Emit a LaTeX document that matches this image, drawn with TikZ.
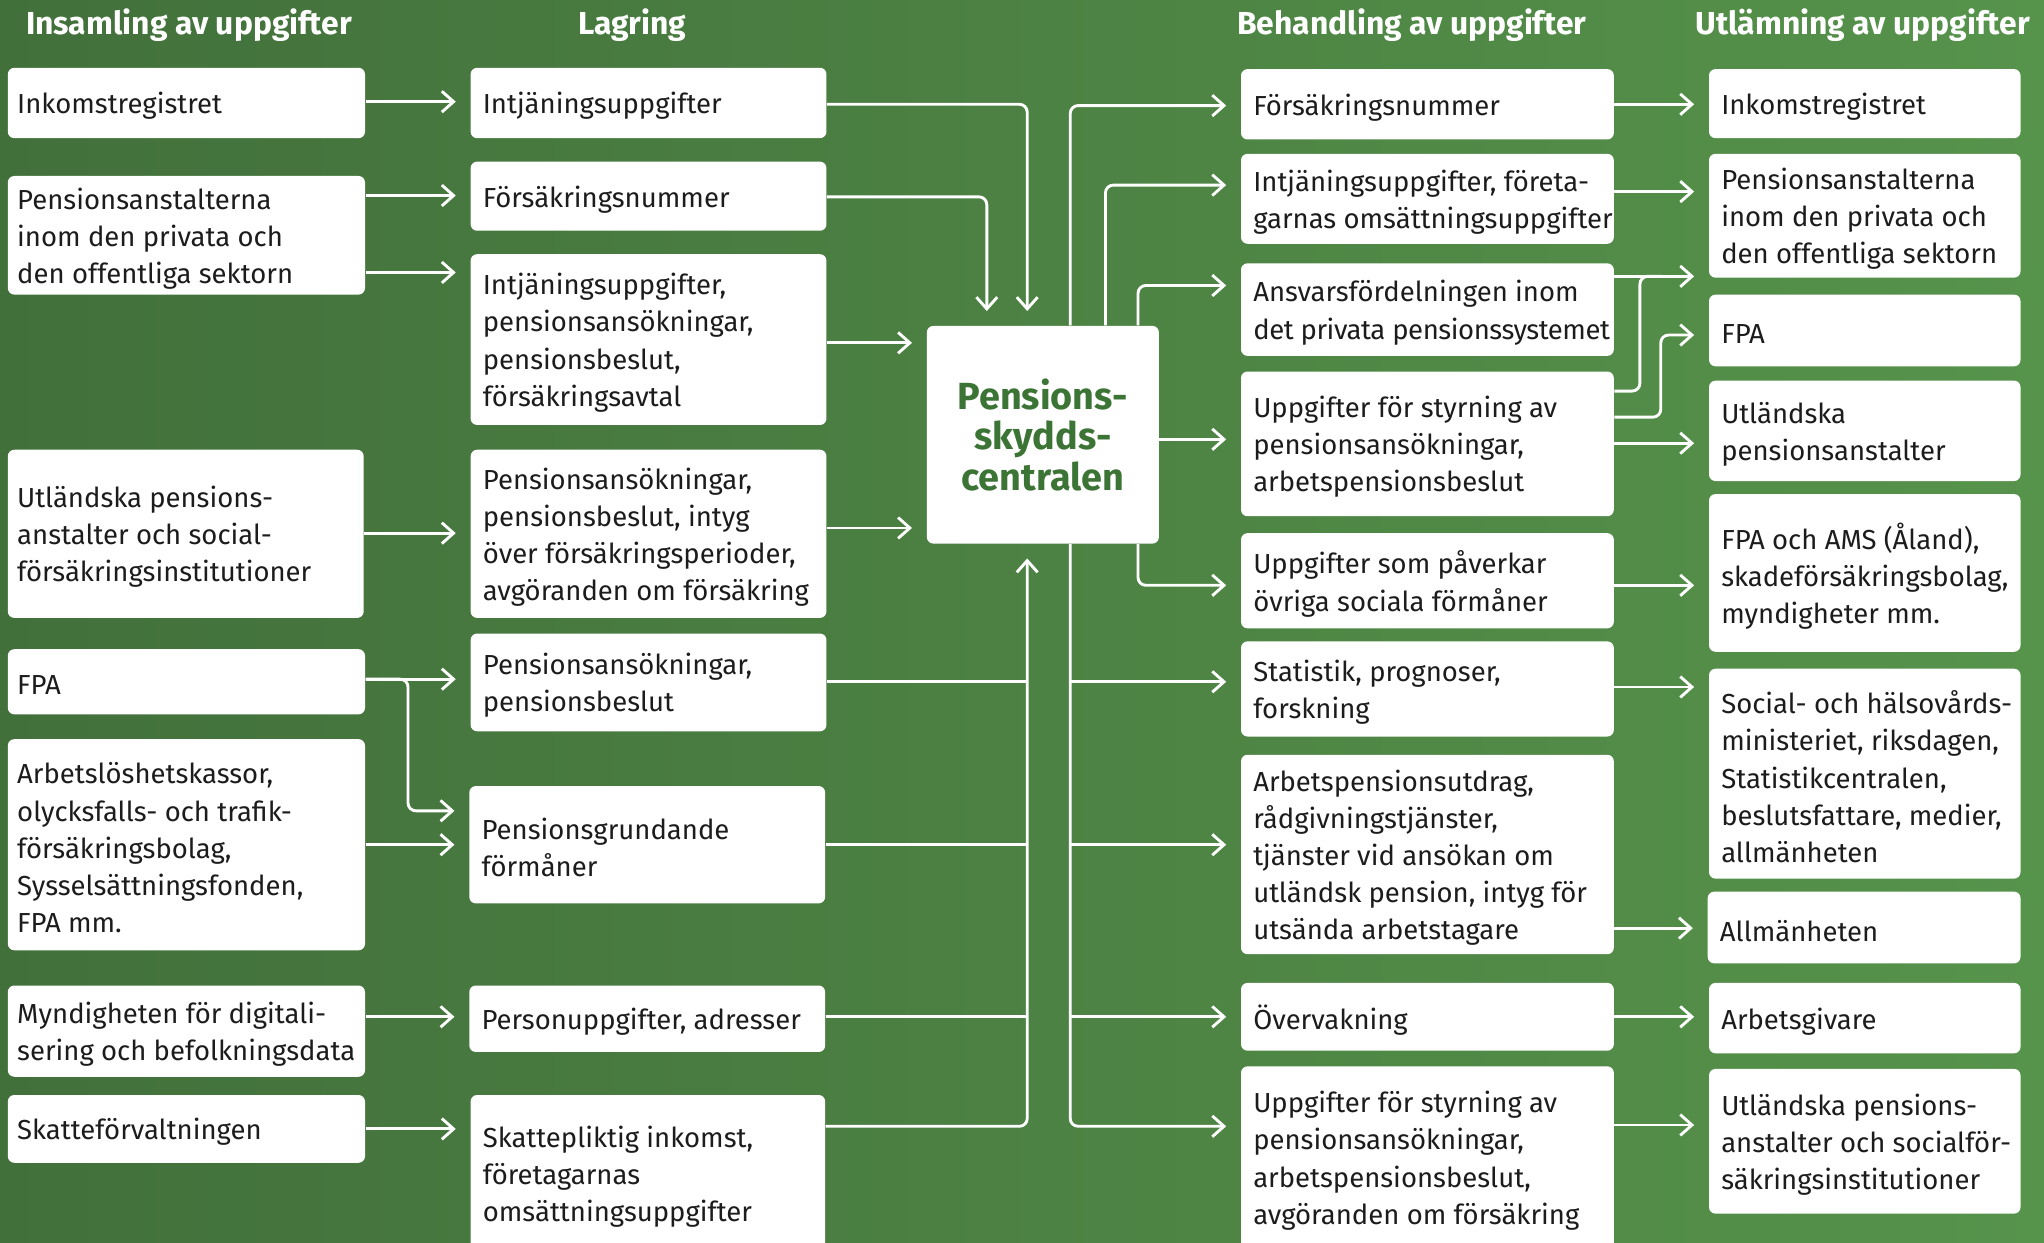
\documentclass[tikz,border=0pt]{standalone}
\usepackage{fontspec}
\setmainfont{Fira Sans}
\usetikzlibrary{arrows.meta,fit}
\definecolor{bgL}{RGB}{66,112,59}
\definecolor{bgR}{RGB}{86,147,75}
\definecolor{pgreen}{RGB}{60,116,54}
\definecolor{txtc}{RGB}{28,28,28}
\tikzset{
  box/.style={fill=white, rounded corners=2.5pt, inner sep=0pt, draw=none},
  btxt/.style={anchor=west, align=left, inner sep=0pt, font=\fontsize{10.55}{14.25}\selectfont, text=txtc},
  ttl/.style={font=\fontsize{12.2}{14}\selectfont\bfseries, text=white, inner sep=0pt},
  arr/.style={draw=white, line width=1.1pt, rounded corners=3pt, -{Straight Barb[length=4.5pt,width=8pt,line width=1.1pt]}, shorten >=5.5pt},
  ln/.style={draw=white, line width=1.1pt, rounded corners=3pt},
}
\newcommand\mybox[7][4.7pt]{%
  \coordinate (#2-tl) at (#3,#4);
  \coordinate (#2-br) at (#5,#6);
  \node[box, fit=(#2-tl)(#2-br)] (#2) {};
  \node[btxt] (#2-t) at ([xshift=#1,yshift=-1.2pt]#2.west) {#7};
}
\begin{document}
\begin{tikzpicture}[x=0.5pt,y=-0.5pt]
\useasboundingbox (0,0) rectangle (1568,953);
\clip (0,0) rectangle (1568,953);
\fill[left color=bgL, right color=bgR] (0,0) rectangle (1568,953);

% titles
\node[ttl] (t1) at (145,19) {Insamling av uppgifter};
\node[ttl] (t2) at (485,19) {Lagring};
\node[ttl] (t3) at (1083,19) {Behandling av uppgifter};
\node[ttl] (t4) at (1429,19) {Utlämning av uppgifter};

% column 1
\mybox[3.6pt]{a1}{6}{52}{280}{106}{Inkomstregistret}
\mybox[3.6pt]{a2}{6}{135}{280}{226}{Pensionsanstalterna\\inom den privata och\\den offentliga sektorn}
\mybox[3.6pt]{a3}{6}{345}{279}{474}{Utländska pensions-\\anstalter och social-\\försäkringsinstitutioner}
\mybox[3.6pt]{a4}{6}{498}{280}{548}{FPA}
\mybox[3.6pt]{a5}{6}{567}{280}{729}{Arbetslöshetskassor,\\olycksfalls- och trafik-\\försäkringsbolag,\\Sysselsättningsfonden,\\FPA mm.}
\mybox[3.6pt]{a6}{6}{756}{280}{826}{Myndigheten för digitali-\\sering och befolkningsdata}
\mybox[3.6pt]{a7}{6}{840}{280}{892}{Skatteförvaltningen}

% column 2
\mybox{b1}{361}{52}{634}{106}{Intjäningsuppgifter}
\mybox{b2}{361}{124}{634}{177}{Försäkringsnummer}
\mybox{b3}{361}{195}{634}{326}{Intjäningsuppgifter,\\pensionsansökningar,\\pensionsbeslut,\\försäkringsavtal}
\mybox{b4}{361}{345}{634}{474}{Pensionsansökningar,\\pensionsbeslut, intyg\\över försäkringsperioder,\\avgöranden om försäkring}
\mybox{b5}{361}{486}{634}{561}{Pensionsansökningar,\\pensionsbeslut}
\mybox{b6}{360}{603}{633}{693}{Pensionsgrundande\\förmåner}
\mybox{b7}{360}{756}{633}{807}{Personuppgifter, adresser}
\mybox{b8}{361}{840}{633}{960}{Skattepliktig inkomst,\\företagarnas\\omsättningsuppgifter}

% centre
\coordinate (c-tl) at (711,250);
\coordinate (c-br) at (889,417);
\node[box, fit=(c-tl)(c-br)] (c) {};
\node[align=center, inner sep=0pt, text=pgreen, font=\fontsize{14.5}{15.5}\selectfont\bfseries] (c-t) at (c.center) {Pensions-\\skydds-\\centralen};

% column 3
\mybox{d1}{952}{53}{1238}{107}{Försäkringsnummer}
\mybox{d2}{952}{118}{1238}{187}{Intjäningsuppgifter, företa-\\garnas omsättningsuppgifter}
\mybox{d3}{952}{202}{1238}{273}{Ansvarsfördelningen inom\\{\addfontfeature{LetterSpace=-1.6}det privata pensionssystemet}}
\mybox{d4}{952}{285}{1238}{396}{Uppgifter för styrning av\\pensionsansökningar,\\arbetspensionsbeslut}
\mybox{d5}{952}{409}{1238}{482}{Uppgifter som påverkar\\övriga sociala förmåner}
\mybox{d6}{952}{492}{1238}{565}{Statistik, prognoser,\\forskning}
\mybox{d7}{952}{579}{1238}{732}{Arbetspensionsutdrag,\\rådgivningstjänster,\\tjänster vid ansökan om\\utländsk pension, intyg för\\utsända arbetstagare}
\mybox{d8}{952}{754}{1238}{806}{Övervakning}
\mybox{d9}{952}{818}{1238}{958}{Uppgifter för styrning av\\pensionsansökningar,\\arbetspensionsbeslut,\\avgöranden om försäkring}

% column 4
\mybox{e1}{1311}{53}{1550}{106}{Inkomstregistret}
\mybox{e2}{1311}{118}{1550}{213}{Pensionsanstalterna\\inom den privata och\\den offentliga sektorn}
\mybox{e3}{1311}{226}{1550}{281}{FPA}
\mybox{e4}{1311}{292}{1550}{369}{Utländska\\pensionsanstalter}
\mybox{e5}{1311}{379}{1550}{500}{FPA och AMS (Åland),\\skadeförsäkringsbolag,\\myndigheter mm.}
\mybox{e6}{1311}{513}{1550}{674}{Social- och hälsovårds-\\ministeriet, riksdagen,\\Statistikcentralen,\\beslutsfattare, medier,\\allmänheten}
\mybox{e7}{1310}{684}{1550}{739}{Allmänheten}
\mybox{e8}{1311}{754}{1550}{808}{Arbetsgivare}
\mybox{e9}{1311}{820}{1550}{931}{Utländska pensions-\\anstalter och socialför-\\säkringsinstitutioner}

% column 1 -> column 2
\draw[arr] (a1.east |- 0,78) -- (b1.west |- 0,78);
\draw[arr] (a2.east |- 0,150) -- (b2.west |- 0,150);
\draw[arr] (a2.east |- 0,209) -- (b3.west |- 0,209);
\draw[arr] (a3.east |- 0,409) -- (b4.west |- 0,409);
\draw[arr] (a4.east |- 0,521) -- (b5.west |- 0,521);
\draw[arr] (a4.east |- 0,521) -- (313,521) -- (313,622) -- (b6.west |- 0,622);
\draw[arr] (a5.east |- 0,648) -- (b6.west |- 0,648);
\draw[arr] (a6.east |- 0,780) -- (b7.west |- 0,780);
\draw[arr] (a7.east |- 0,866) -- (b8.west |- 0,866);

% column 2 -> centre
\draw[arr] (b1.east |- 0,80) -- (788,80) -- (c.north -| 788,0);
\draw[arr] (b2.east |- 0,151) -- (757,151) -- (c.north -| 757,0);
\draw[arr] (b3.east |- 0,263) -- (c.west |- 0,263);
\draw[arr] (b4.east |- 0,405) -- (c.west |- 0,405);
\draw[arr] (b8.east |- 0,864) -- (788,864) -- (c.south -| 788,0);
\draw[ln] (b5.east |- 0,523) -- (788,523);
\draw[ln] (b6.east |- 0,648) -- (788,648);
\draw[ln] (b7.east |- 0,780) -- (788,780);

% centre -> column 3
\draw[arr] (c.north -| 821,0) -- (821,81) -- (d1.west |- 0,81);
\draw[arr] (c.north -| 848,0) -- (848,142) -- (d2.west |- 0,142);
\draw[arr] (c.north -| 873,0) -- (873,219) -- (d3.west |- 0,219);
\draw[arr] (c.east |- 0,337) -- (d4.west |- 0,337);
\draw[arr] (c.south -| 873,0) -- (873,449) -- (d5.west |- 0,449);
\draw[arr] (c.south -| 821,0) -- (821,864) -- (d9.west |- 0,864);
\coordinate (k1) at (821,523);
\coordinate (k2) at (821,648);
\coordinate (k3) at (821,780);
\draw[arr] (k1) -- (d6.west |- k1);
\draw[arr] (k2) -- (d7.west |- k2);
\draw[arr] (k3) -- (d8.west |- k3);

% column 3 -> column 4
\draw[arr] (d1.east |- 0,80) -- (e1.west |- 0,80);
\draw[arr] (d2.east |- 0,147) -- (e2.west |- 0,147);
\draw[arr] (d3.east |- 0,212) -- (e2.west |- 0,212);
\draw[ln] (d4.east |- 0,300) -- (1258,300) -- (1258,212) -- (1275,212);
\draw[arr] (d4.east |- 0,320) -- (1274,320) -- (1274,257) -- (e3.west |- 0,257);
\draw[arr] (d4.east |- 0,340) -- (e4.west |- 0,340);
\draw[arr] (d5.east |- 0,449) -- (e5.west |- 0,449);
\draw[arr] (d6.east |- 0,527) -- (e6.west |- 0,527);
\draw[arr] (d7.east |- 0,712) -- (e7.west |- 0,712);
\draw[arr] (d8.east |- 0,780) -- (e8.west |- 0,780);
\draw[arr] (d9.east |- 0,863) -- (e9.west |- 0,863);
\end{tikzpicture}
\end{document}
